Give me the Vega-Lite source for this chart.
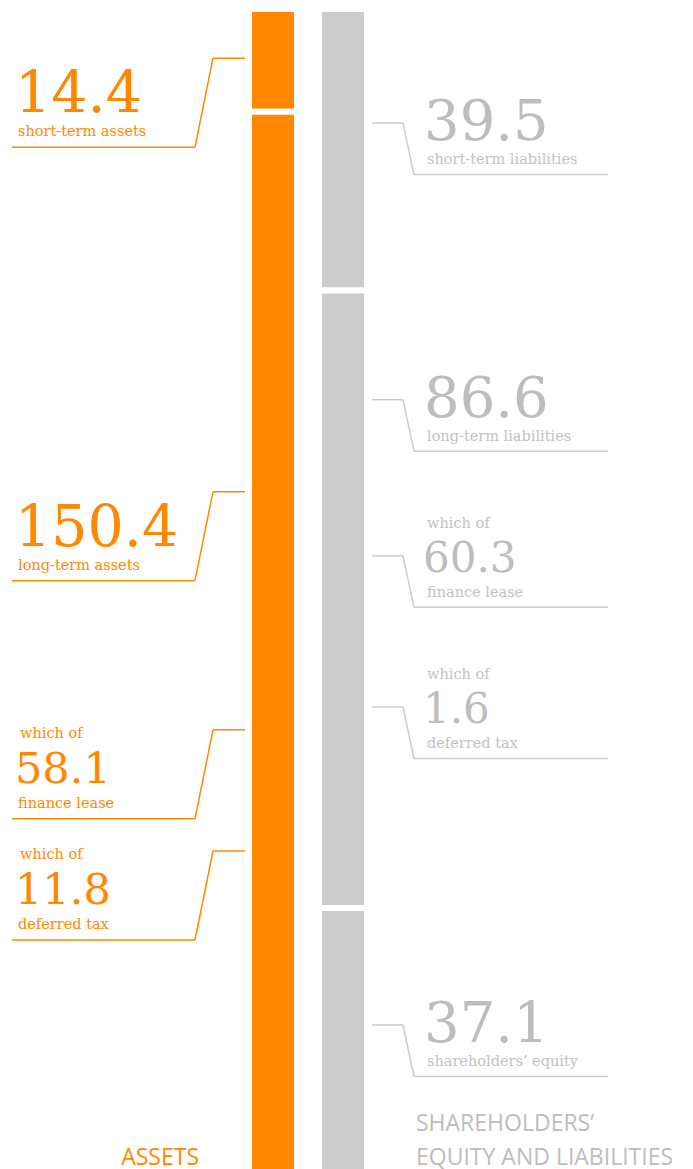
{
  "$schema": "https://vega.github.io/schema/vega-lite/v6.json",
  "width": 693,
  "height": 1169,
  "autosize": {"type": "none"},
  "padding": 0,
  "background": "white",
  "config": {"view": {"stroke": null}},
  "datasets": {
    "segments": [
      {"side": "assets", "part": "short-term assets", "value": 14.4, "order": 1},
      {"side": "assets", "part": "long-term assets", "value": 150.4, "order": 2},
      {"side": "liabilities", "part": "short-term liabilities", "value": 39.5, "order": 1},
      {"side": "liabilities", "part": "long-term liabilities", "value": 86.6, "order": 2},
      {"side": "liabilities", "part": "shareholders’ equity", "value": 37.1, "order": 3}
    ],
    "notes": [
      {"side": "assets", "level": "total", "qualifier": "", "value": 14.4, "label": "short-term assets", "at": 6.9},
      {"side": "assets", "level": "total", "qualifier": "", "value": 150.4, "label": "long-term assets", "at": 67.7},
      {"side": "assets", "level": "of", "qualifier": "which of", "value": 58.1, "label": "finance lease", "at": 101.1},
      {"side": "assets", "level": "of", "qualifier": "which of", "value": 11.8, "label": "deferred tax", "at": 118.1},
      {"side": "liabilities", "level": "total", "qualifier": "", "value": 39.5, "label": "short-term liabilities", "at": 16.0},
      {"side": "liabilities", "level": "total", "qualifier": "", "value": 86.6, "label": "long-term liabilities", "at": 54.8},
      {"side": "liabilities", "level": "of", "qualifier": "which of", "value": 60.3, "label": "finance lease", "at": 76.7},
      {"side": "liabilities", "level": "of", "qualifier": "which of", "value": 1.6, "label": "deferred tax", "at": 97.9},
      {"side": "liabilities", "level": "total", "qualifier": "", "value": 37.1, "label": "shareholders’ equity", "at": 142.5}
    ],
    "titles": [
      {"side": "assets", "title": ["ASSETS"], "at": 162.2},
      {"side": "liabilities", "title": ["SHAREHOLDERS’", "EQUITY AND LIABILITIES"], "at": 157.4}
    ]
  },
  "layer": [
    {
      "data": {"name": "segments"},
      "mark": {"type": "bar", "stroke": "white", "strokeWidth": 6, "clip": true},
      "encoding": {
        "x": {"field": "side", "type": "nominal", "axis": null, "scale": {"domain": ["assets", "liabilities"], "range": [238, 378], "paddingInner": 0.3143, "paddingOuter": 0.1571}},
        "y": {"field": "value", "type": "quantitative", "stack": "zero", "axis": null, "scale": {"domain": [-1.26, 162.7], "reverse": true, "nice": false, "zero": false}},
        "order": {"field": "order", "type": "quantitative"},
        "color": {"field": "side", "type": "nominal", "legend": null, "scale": {"domain": ["assets", "liabilities"], "range": ["#FF8800", "#CCCCCC"]}}
      }
    },
    {
      "data": {"name": "notes"},
      "transform": [{"filter": "datum.side === 'assets'"}],
      "mark": {"type": "rule", "color": "#FF8800", "strokeWidth": 1.5, "xOffset": -28, "x2Offset": -60},
      "encoding": {
        "x": {"field": "side", "type": "nominal"},
        "x2": {"field": "side"},
        "y": {"field": "at", "type": "quantitative"}
      }
    },
    {
      "data": {"name": "notes"},
      "transform": [{"filter": "datum.side === 'assets'"}],
      "mark": {"type": "rule", "color": "#FF8800", "strokeWidth": 1.5, "xOffset": -60, "x2Offset": -78, "y2Offset": 89},
      "encoding": {
        "x": {"field": "side", "type": "nominal"},
        "x2": {"field": "side"},
        "y": {"field": "at", "type": "quantitative"},
        "y2": {"field": "at"}
      }
    },
    {
      "data": {"name": "notes"},
      "transform": [{"filter": "datum.side === 'assets'"}],
      "mark": {"type": "rule", "color": "#FF8800", "strokeWidth": 1.5, "xOffset": -78, "x2Offset": -261, "yOffset": 89},
      "encoding": {
        "x": {"field": "side", "type": "nominal"},
        "x2": {"field": "side"},
        "y": {"field": "at", "type": "quantitative"}
      }
    },
    {
      "data": {"name": "notes"},
      "transform": [{"filter": "datum.side === 'liabilities'"}],
      "mark": {"type": "rule", "color": "#CCCCCC", "strokeWidth": 1.5, "xOffset": 29, "x2Offset": 60},
      "encoding": {
        "x": {"field": "side", "type": "nominal"},
        "x2": {"field": "side"},
        "y": {"field": "at", "type": "quantitative"}
      }
    },
    {
      "data": {"name": "notes"},
      "transform": [{"filter": "datum.side === 'liabilities'"}],
      "mark": {"type": "rule", "color": "#CCCCCC", "strokeWidth": 1.5, "xOffset": 60, "x2Offset": 71, "y2Offset": 51.5},
      "encoding": {
        "x": {"field": "side", "type": "nominal"},
        "x2": {"field": "side"},
        "y": {"field": "at", "type": "quantitative"},
        "y2": {"field": "at"}
      }
    },
    {
      "data": {"name": "notes"},
      "transform": [{"filter": "datum.side === 'liabilities'"}],
      "mark": {"type": "rule", "color": "#CCCCCC", "strokeWidth": 1.5, "xOffset": 71, "x2Offset": 265, "yOffset": 51.5},
      "encoding": {
        "x": {"field": "side", "type": "nominal"},
        "x2": {"field": "side"},
        "y": {"field": "at", "type": "quantitative"}
      }
    },
    {
      "data": {"name": "notes"},
      "transform": [{"filter": "datum.side === 'assets' && datum.level === 'total'"}],
      "mark": {"type": "text", "align": "left", "baseline": "alphabetic", "font": "DejaVu Serif", "fontSize": 57, "color": "#FF8800", "dx": -258, "dy": 54},
      "encoding": {
        "x": {"field": "side", "type": "nominal"},
        "y": {"field": "at", "type": "quantitative"},
        "text": {"field": "value", "type": "quantitative", "format": ".1f"}
      }
    },
    {
      "data": {"name": "notes"},
      "transform": [{"filter": "datum.side === 'assets' && datum.level === 'of'"}],
      "mark": {"type": "text", "align": "left", "baseline": "alphabetic", "font": "DejaVu Serif", "fontSize": 43, "color": "#FF8800", "dx": -258, "dy": 53},
      "encoding": {
        "x": {"field": "side", "type": "nominal"},
        "y": {"field": "at", "type": "quantitative"},
        "text": {"field": "value", "type": "quantitative", "format": ".1f"}
      }
    },
    {
      "data": {"name": "notes"},
      "transform": [{"filter": "datum.side === 'assets'"}],
      "mark": {"type": "text", "align": "left", "baseline": "alphabetic", "font": "DejaVu Serif", "fontSize": 14.5, "color": "#FF8800", "dx": -255, "dy": 78},
      "encoding": {
        "x": {"field": "side", "type": "nominal"},
        "y": {"field": "at", "type": "quantitative"},
        "text": {"field": "label", "type": "nominal"}
      }
    },
    {
      "data": {"name": "notes"},
      "transform": [{"filter": "datum.side === 'assets' && datum.level === 'of'"}],
      "mark": {"type": "text", "align": "left", "baseline": "alphabetic", "font": "DejaVu Serif", "fontSize": 14.5, "color": "#FF8800", "dx": -253, "dy": 8},
      "encoding": {
        "x": {"field": "side", "type": "nominal"},
        "y": {"field": "at", "type": "quantitative"},
        "text": {"field": "qualifier", "type": "nominal"}
      }
    },
    {
      "data": {"name": "notes"},
      "transform": [{"filter": "datum.side === 'liabilities' && datum.level === 'total'"}],
      "mark": {"type": "text", "align": "left", "baseline": "alphabetic", "font": "DejaVu Serif", "fontSize": 56, "color": "#BDBDBD", "dx": 81, "dy": 17},
      "encoding": {
        "x": {"field": "side", "type": "nominal"},
        "y": {"field": "at", "type": "quantitative"},
        "text": {"field": "value", "type": "quantitative", "format": ".1f"}
      }
    },
    {
      "data": {"name": "notes"},
      "transform": [{"filter": "datum.side === 'liabilities' && datum.level === 'of'"}],
      "mark": {"type": "text", "align": "left", "baseline": "alphabetic", "font": "DejaVu Serif", "fontSize": 42, "color": "#BDBDBD", "dx": 80, "dy": 16},
      "encoding": {
        "x": {"field": "side", "type": "nominal"},
        "y": {"field": "at", "type": "quantitative"},
        "text": {"field": "value", "type": "quantitative", "format": ".1f"}
      }
    },
    {
      "data": {"name": "notes"},
      "transform": [{"filter": "datum.side === 'liabilities'"}],
      "mark": {"type": "text", "align": "left", "baseline": "alphabetic", "font": "DejaVu Serif", "fontSize": 14.5, "color": "#C2C2C2", "dx": 84, "dy": 41},
      "encoding": {
        "x": {"field": "side", "type": "nominal"},
        "y": {"field": "at", "type": "quantitative"},
        "text": {"field": "label", "type": "nominal"}
      }
    },
    {
      "data": {"name": "notes"},
      "transform": [{"filter": "datum.side === 'liabilities' && datum.level === 'of'"}],
      "mark": {"type": "text", "align": "left", "baseline": "alphabetic", "font": "DejaVu Serif", "fontSize": 14.5, "color": "#C2C2C2", "dx": 84, "dy": -28},
      "encoding": {
        "x": {"field": "side", "type": "nominal"},
        "y": {"field": "at", "type": "quantitative"},
        "text": {"field": "qualifier", "type": "nominal"}
      }
    },
    {
      "data": {"name": "titles"},
      "transform": [{"filter": "datum.side === 'assets'"}],
      "mark": {"type": "text", "align": "right", "baseline": "alphabetic", "font": "Open Sans", "fontWeight": 400, "fontSize": 23, "color": "#FF8800", "dx": -74},
      "encoding": {
        "x": {"field": "side", "type": "nominal"},
        "y": {"field": "at", "type": "quantitative"},
        "text": {"field": "title"}
      }
    },
    {
      "data": {"name": "titles"},
      "transform": [{"filter": "datum.side === 'liabilities'"}],
      "mark": {"type": "text", "align": "left", "baseline": "alphabetic", "font": "Open Sans", "fontWeight": 400, "fontSize": 23, "lineHeight": 34, "color": "#BDBDBD", "dx": 73},
      "encoding": {
        "x": {"field": "side", "type": "nominal"},
        "y": {"field": "at", "type": "quantitative"},
        "text": {"field": "title"}
      }
    }
  ]
}
